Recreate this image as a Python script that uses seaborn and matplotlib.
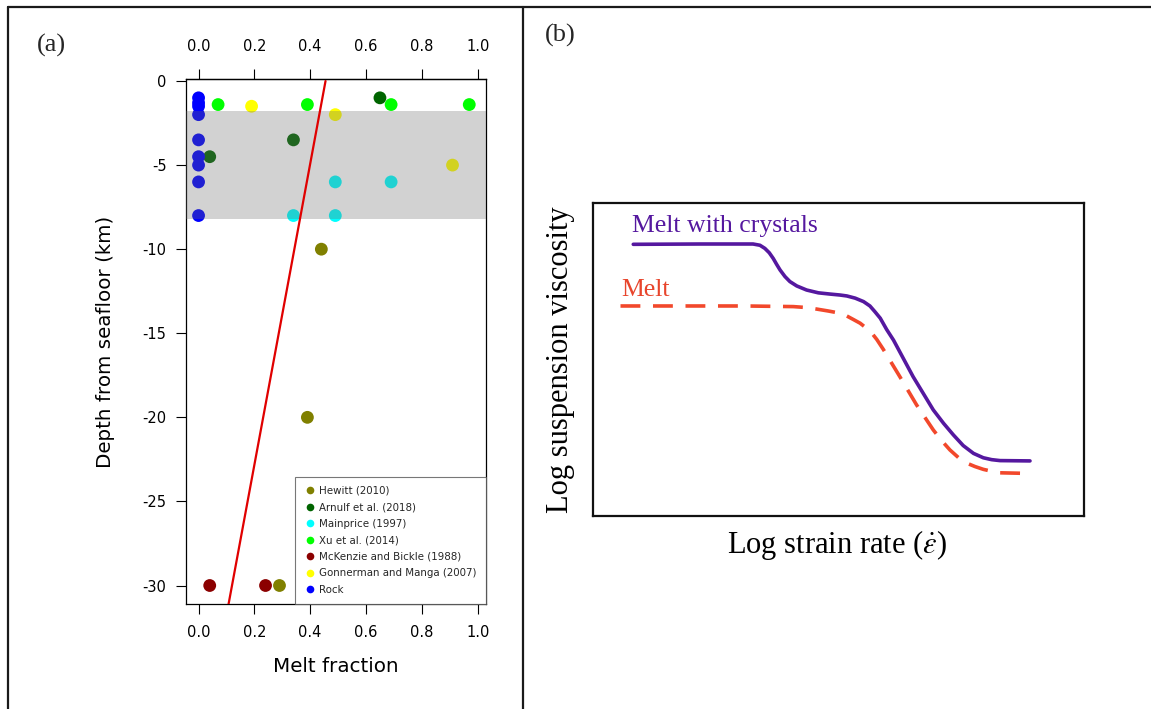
import numpy as np
import pandas as pd
import matplotlib
matplotlib.use("Agg")
import matplotlib.pyplot as plt
from matplotlib.lines import Line2D
import seaborn as sns

# ---------------- data: panel (a) ----------------
series_names = ["Hewitt (2010)", "Arnulf et al. (2018)", "Mainprice (1997)",
                "Xu et al. (2014)", "McKenzie and Bickle (1988)",
                "Gonnerman and Manga (2007)", "Rock"]
series_colors = ["#808000", "#006400", "#00ffff", "#00ff00", "#8b0000", "#ffff00", "#0000ff"]

hewitt_frac = [0.44, 0.39, 0.29]
hewitt_depth = [-10, -20, -30]
arnulf_frac = [0.65, 0.34, 0.04]
arnulf_depth = [-1.0, -3.5, -4.5]
mainprice_frac = [0.49, 0.69, 0.34, 0.49]
mainprice_depth = [-6.0, -6.0, -8.0, -8.0]
xu_frac = [0.07, 0.39, 0.69, 0.97]
xu_depth = [-1.4, -1.4, -1.4, -1.4]
mckenzie_frac = [0.04, 0.24]
mckenzie_depth = [-30, -30]
gonnerman_frac = [0.19, 0.49, 0.91]
gonnerman_depth = [-1.5, -2.0, -5.0]
rock_frac = [0.0, 0.0, 0.0, 0.0, 0.0, 0.0, 0.0, 0.0, 0.0]
rock_depth = [-1.0, -1.3, -1.5, -2.0, -3.5, -4.5, -5.0, -6.0, -8.0]

band_depth = [-8.2, -1.8]           # shaded depth interval
trend_depth = [0, -35]              # red trend line
trend_frac = [0.455, 0.064]

x_ticks_a = [0.0, 0.2, 0.4, 0.6, 0.8, 1.0]
y_ticks_a = [0, -5, -10, -15, -20, -25, -30]

# ---------------- data: panel (b) (schematic, axes 0-10) ----------------
crystal_x = [0.82, 2.18, 2.99, 3.26, 3.40, 3.50, 3.59, 3.67, 3.74, 3.81, 3.91, 4.01,
             4.15, 4.35, 4.59, 4.83, 5.03, 5.17, 5.34, 5.51, 5.64, 5.74, 5.85, 5.98,
             6.12, 6.52, 6.93, 7.14, 7.34, 7.54, 7.75, 7.95, 8.12, 8.29, 8.90]
crystal_y = [8.68, 8.69, 8.69, 8.69, 8.65, 8.55, 8.41, 8.23, 8.04, 7.86, 7.65, 7.49,
             7.35, 7.22, 7.13, 7.09, 7.06, 7.03, 6.96, 6.85, 6.71, 6.53, 6.32, 5.96,
             5.62, 4.45, 3.39, 2.96, 2.59, 2.25, 2.00, 1.86, 1.80, 1.77, 1.76]
melt_x = [0.56, 2.18, 3.10, 4.08, 4.35, 4.56, 4.79, 5.03, 5.17, 5.30, 5.44, 5.57,
          5.68, 5.78, 5.91, 6.25, 6.59, 6.93, 7.10, 7.27, 7.44, 7.61, 7.78, 7.95,
          8.12, 8.29, 8.87]
melt_y = [6.71, 6.71, 6.71, 6.69, 6.66, 6.61, 6.55, 6.48, 6.39, 6.28, 6.16, 6.00,
          5.84, 5.64, 5.33, 4.45, 3.55, 2.75, 2.41, 2.11, 1.87, 1.69, 1.58, 1.49,
          1.43, 1.38, 1.36]

# ---------------- build frames ----------------
frac_lists = [hewitt_frac, arnulf_frac, mainprice_frac, xu_frac, mckenzie_frac, gonnerman_frac, rock_frac]
depth_lists = [hewitt_depth, arnulf_depth, mainprice_depth, xu_depth, mckenzie_depth, gonnerman_depth, rock_depth]
rows = []
for name, fr, dp in zip(series_names, frac_lists, depth_lists):
    for f, d in zip(fr, dp):
        rows.append({"frac": f, "depth": d, "source": name})
pts = pd.DataFrame(rows)
palette = dict(zip(series_names, series_colors))

sns.set_theme(style="white")
plt.rcParams["font.family"] = ["DejaVu Sans"]
plt.rcParams["mathtext.fontset"] = "stix"

fig = plt.figure(figsize=(11.51, 7.09), dpi=100)
W, H = 1151, 709

def rect(l, t, r, b):
    return [l / W, (H - b) / H, (r - l) / W, (b - t) / H]

# ---------------- panel (a) ----------------
ax = fig.add_axes(rect(186, 79, 486, 604))
sns.scatterplot(data=pts, x="frac", y="depth", hue="source", hue_order=series_names,
                palette=palette, s=85, edgecolor="none", linewidth=0, ax=ax, zorder=2)
ax.axhspan(band_depth[0], band_depth[1], color="#6c6c6c", alpha=0.3, lw=0, zorder=3)
sns.lineplot(x=trend_frac, y=trend_depth, color="#e00000", lw=1.6, ax=ax,
             estimator=None, sort=False, zorder=4)

ax.set_xlim(-0.045, 1.03)
ax.set_ylim(-31.1, 0.12)
ax.set_xticks(x_ticks_a)
ax.set_xticklabels([f"{v:.1f}" for v in x_ticks_a])
ax.set_yticks(y_ticks_a)
ax.set_yticklabels([str(v) for v in y_ticks_a])
ax.tick_params(axis="both", which="both", direction="out", length=7, width=0.8,
               color="black", labelsize=10.5, labelcolor="black")
ax.tick_params(axis="x", top=False, labeltop=False, bottom=True, labelbottom=True, pad=8)
ax.tick_params(axis="y", left=True, pad=7)

sec = ax.secondary_xaxis("top")
sec.set_xticks(x_ticks_a)
sec.set_xticklabels([f"{v:.1f}" for v in x_ticks_a])
sec.tick_params(axis="x", direction="out", length=7, width=0.8, color="black",
                labelsize=10.5, labelcolor="black", pad=11)
sec.spines["top"].set_color("black")
sec.spines["top"].set_linewidth(0.9)

for sp in ax.spines.values():
    sp.set_color("black")
    sp.set_linewidth(0.9)
ax.set_xlabel("Melt fraction", fontsize=14.3, color="black")
ax.set_ylabel("Depth from seafloor (km)", fontsize=14.3, color="black")
ax.xaxis.set_label_coords(0.5, -0.100)
ax.yaxis.set_label_coords(-0.238, 0.5)

handles = [Line2D([0], [0], marker="o", linestyle="none", markersize=5.5,
                  markerfacecolor=c, markeredgecolor="none") for c in series_colors]
leg = ax.legend(handles, series_names, loc="lower right", bbox_to_anchor=(1.0, 0.0),
                borderaxespad=0, fontsize=7.4, frameon=True, fancybox=False,
                labelspacing=0.63, handletextpad=0.3, handlelength=1.2,
                borderpad=0.9)
leg.get_frame().set_edgecolor("#555555")
leg.get_frame().set_linewidth(0.8)
leg.set_zorder(6)

# ---------------- panel (b) ----------------
bx = fig.add_axes(rect(593, 203, 1084, 516))
sns.lineplot(x=crystal_x, y=crystal_y, color="#55189f", lw=2.6, ax=bx,
             estimator=None, sort=False)
bx.lines[-1].set_solid_joinstyle("round")
sns.lineplot(x=melt_x, y=melt_y, color="#f2482b", lw=2.6, ax=bx,
             estimator=None, sort=False)
bx.lines[-1].set_dashes([5.5, 3.5])
bx.lines[-1].set_dash_capstyle("butt")
bx.lines[-1].set_dash_joinstyle("round")
bx.set_xlim(0, 10)
bx.set_ylim(0, 10)
bx.set_xticks([])
bx.set_yticks([])
for sp in bx.spines.values():
    sp.set_visible(True)
    sp.set_color("#111111")
    sp.set_linewidth(1.6)
serif = ["Liberation Serif", "DejaVu Serif"]
bx.set_ylabel("Log suspension viscosity", fontsize=22, family=serif, color="black")
bx.set_xlabel(r"Log strain rate ($\dot{\varepsilon}$)", fontsize=22, family=serif, color="black")
bx.yaxis.set_label_coords(-0.036, 0.5)
bx.xaxis.set_label_coords(0.497, -0.038)
bx.text(0.079, 0.925, "Melt with crystals", transform=bx.transAxes, fontsize=18.5,
        family=serif, color="#55189f", va="center", ha="left")
bx.text(0.057, 0.722, "Melt", transform=bx.transAxes, fontsize=18.5,
        family=serif, color="#e8452c", va="center", ha="left")

# ---------------- panel labels & frame ----------------
fig.text(51 / W, 1 - 45 / H, "(a)", fontsize=19, family=serif, ha="center", va="center")
fig.text(560 / W, 1 - 35 / H, "(b)", fontsize=19, family=serif, ha="center", va="center")
for ln in [Line2D([8 / W, 1], [1 - 7 / H, 1 - 7 / H]),
           Line2D([8 / W, 8 / W], [0, 1 - 7 / H]),
           Line2D([523 / W, 523 / W], [0, 1 - 7 / H])]:
    ln.set_transform(fig.transFigure)
    ln.set_color("#1a1a1a")
    ln.set_linewidth(1.6)
    fig.add_artist(ln)

fig.savefig("out.png", dpi=100)
